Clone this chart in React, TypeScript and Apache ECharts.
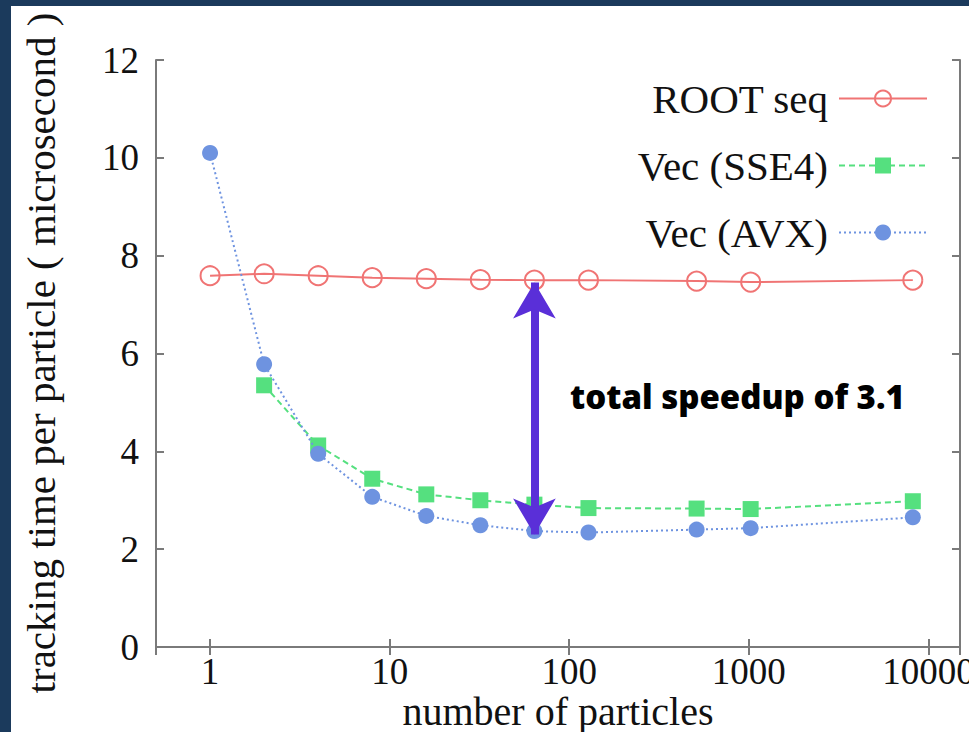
import React, { useEffect, useRef } from "react";
import * as echarts from "echarts";

const particles = [1, 2, 4, 8, 16, 32, 64, 128, 512, 1024, 8192];
const rootSeq = [7.59, 7.63, 7.59, 7.55, 7.53, 7.51, 7.5, 7.5, 7.48, 7.46, 7.5];
const vecSSE4 = [null, 5.35, 4.12, 3.44, 3.12, 3.0, 2.91, 2.84, 2.83, 2.82, 2.98];
const vecAVX = [10.1, 5.78, 3.95, 3.07, 2.68, 2.49, 2.37, 2.34, 2.4, 2.43, 2.65];
const seriesNames = ["ROOT seq", "Vec (SSE4)", "Vec (AVX)"];
const yTitle = "tracking time per particle ( microsecond )";
const xTitle = "number of particles";
const speedupX = 64;
const speedupTop = 7.45;
const speedupBottom = 2.3;
const speedupText = "total speedup of 3.1";

const RED = "#f07474";
const GREEN = "#55e07f";
const BLUE = "#6e93e0";
const PURPLE = "#5a2fd8";
const SERIF = "Liberation Serif";

function pairs(vals: (number | null)[]) {
  const out: [number, number][] = [];
  particles.forEach((x, i) => {
    const v = vals[i];
    if (v !== null && v !== undefined) out.push([x, v]);
  });
  return out;
}

export default function App() {
  const ref = useRef<HTMLDivElement>(null);
  useEffect(() => {
    if (!ref.current) return;
    const chart = echarts.init(ref.current, null, { renderer: "svg" });
    const axisLineStyle = { color: "#7a7a7a", width: 2 };
    const xCommon = {
      type: "log" as const,
      logBase: 10,
      min: 0.5,
      max: 15000,
      splitLine: { show: false },
      axisLine: { show: true, lineStyle: axisLineStyle },
      axisTick: { show: true, inside: true, length: 8, lineStyle: axisLineStyle },
    };
    const yCommon = {
      type: "value" as const,
      min: 0,
      max: 12,
      interval: 2,
      splitLine: { show: false },
      axisLine: { show: true, lineStyle: axisLineStyle },
      axisTick: { show: true, inside: true, length: 8, lineStyle: axisLineStyle },
    };
    chart.setOption({
      animation: false,
      backgroundColor: "#ffffff",
      textStyle: { fontFamily: SERIF },
      grid: { left: 145, right: 9, top: 54, bottom: 85, containLabel: false, outerBoundsMode: "none" },
      xAxis: [
        {
          ...xCommon,
          position: "bottom",
          name: xTitle,
          nameLocation: "middle",
          nameGap: 44,
          nameMoveOverlap: false,
          nameTextStyle: { fontFamily: SERIF, fontSize: 40, color: "#111", verticalAlign: "top" },
          axisLabel: {
            fontFamily: SERIF,
            fontSize: 37,
            color: "#111",
            margin: 6,
            showMinLabel: false,
            showMaxLabel: false,
            formatter: (v: number) => String(Math.round(v)),
          },
        },
        { ...xCommon, position: "top", axisLabel: { show: false } },
      ],
      yAxis: [
        {
          ...yCommon,
          position: "left",
          axisLabel: { fontFamily: SERIF, fontSize: 37, color: "#111", margin: 17 },
        },
        { ...yCommon, position: "right", axisLabel: { show: false } },
      ],
      legend: {
        orient: "vertical",
        right: 36,
        top: 67,
        align: "right",
        itemWidth: 88,
        itemHeight: 20,
        itemGap: 26,
        data: seriesNames,
        textStyle: { fontFamily: SERIF, fontSize: 41, color: "#111", padding: [0, 6, 0, 0] },
      },
      series: [
        {
          name: seriesNames[0],
          type: "line",
          data: pairs(rootSeq),
          symbol: "circle",
          symbolSize: 19,
          itemStyle: { color: "rgba(255,255,255,0)", borderColor: RED, borderWidth: 2 },
          lineStyle: { color: RED, width: 2, type: "solid" },
          z: 3,
        },
        {
          name: seriesNames[1],
          type: "line",
          data: pairs(vecSSE4),
          symbol: "rect",
          symbolSize: 16,
          itemStyle: { color: GREEN },
          lineStyle: { color: GREEN, width: 2, type: [6, 4] },
          z: 4,
        },
        {
          name: seriesNames[2],
          type: "line",
          data: pairs(vecAVX),
          symbol: "circle",
          symbolSize: 16,
          itemStyle: { color: BLUE },
          lineStyle: { color: BLUE, width: 2, type: [2, 3] },
          z: 5,
          markLine: {
            silent: true,
            symbol: ["arrow", "arrow"],
            symbolSize: [32, 36],
            lineStyle: { color: PURPLE, width: 8, type: "solid" },
            label: { show: false },
            data: [[{ coord: [speedupX, speedupTop] }, { coord: [speedupX, speedupBottom] }]],
            z: 10,
          },
        },
      ],
      graphic: [
        {
          type: "text",
          left: 559,
          top: 374,
          z: 20,
          style: {
            text: speedupText,
            fontFamily: "Open Sans",
            fontWeight: 800,
            fontSize: 33,
            fill: "#000",
          },
        },
      ],
    });
    return () => chart.dispose();
  }, []);
  return (
    <div style={{ position: "absolute", left: 0, top: 0, width: 969, height: 732, background: "#1b3a5c", overflow: "hidden" }}>
      <div ref={ref} style={{ position: "absolute", left: 11, top: 6, width: 958, height: 726, background: "#fff" }} />
      <div
        style={{
          position: "absolute",
          left: 21,
          top: 353,
          writingMode: "vertical-rl",
          whiteSpace: "nowrap",
          fontFamily: "'Liberation Serif', serif",
          fontSize: 41,
          lineHeight: "41px",
          color: "#111",
          transform: "translate(0, -50%) rotate(180deg)",
        }}
      >
        {yTitle}
      </div>
    </div>
  );
}
